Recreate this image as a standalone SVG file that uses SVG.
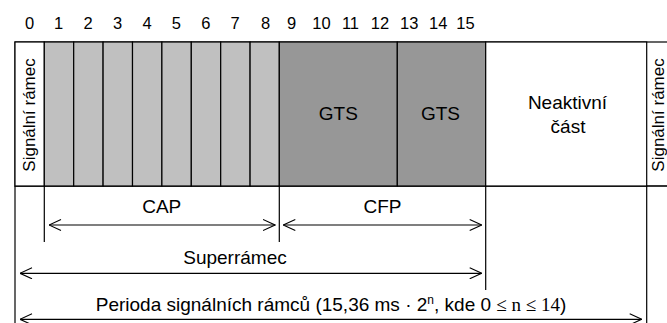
<svg xmlns="http://www.w3.org/2000/svg" width="667" height="323" viewBox="0 0 667 323">
<style>
text{font-family:"Liberation Sans",Arial,sans-serif;fill:#000}
.n{font-size:16.5px;text-anchor:middle}
.l{font-size:19px;text-anchor:middle}
.v{font-size:17px;text-anchor:middle}
.ln{stroke:#000;stroke-width:1.2;fill:none}
.slot{fill:#c0c0c0;stroke:#000;stroke-width:1.2}
.gts{fill:#979797;stroke:#000;stroke-width:1.2}
.ar{stroke:#000;stroke-width:1.2;fill:none;marker-start:url(#a);marker-end:url(#a)}
</style>
<defs>
<marker id="a" viewBox="0 0 13 12" refX="12.5" refY="6" markerWidth="13" markerHeight="12" markerUnits="userSpaceOnUse" orient="auto-start-reverse">
<path d="M0.5,0.5 L12.5,6 L0.5,11.5" fill="none" stroke="#000" stroke-width="1.1"/>
</marker>
</defs>
<rect width="667" height="323" fill="#fff"/>
<g id="numbers">
<text class="n" x="29.7" y="28.5">0</text>
<text class="n" x="58.5" y="28.5">1</text>
<text class="n" x="88.2" y="28.5">2</text>
<text class="n" x="117.6" y="28.5">3</text>
<text class="n" x="147" y="28.5">4</text>
<text class="n" x="176.4" y="28.5">5</text>
<text class="n" x="205.8" y="28.5">6</text>
<text class="n" x="235.2" y="28.5">7</text>
<text class="n" x="265.5" y="28.5">8</text>
<text class="n" x="291.7" y="28.5">9</text>
<text class="n" x="321.5" y="28.5">10</text>
<text class="n" x="350.5" y="28.5">11</text>
<text class="n" x="380" y="28.5">12</text>
<text class="n" x="409.3" y="28.5">13</text>
<text class="n" x="438.3" y="28.5">14</text>
<text class="n" x="465.5" y="28.5">15</text>
</g>
<g id="frame">
<rect x="15" y="42" width="660" height="144" fill="#fff" stroke="#000" stroke-width="1.2"/>
<line class="ln" x1="15" y1="186" x2="667" y2="186"/>
</g>
<g id="beacon-left">
<rect x="15" y="42" width="29.3" height="144" fill="#fff" stroke="#000" stroke-width="1.2"/>
<text class="v" transform="translate(35,115) rotate(-90)">Signální rámec</text>
</g>
<g id="cap-slots">
<rect class="slot" x="44.3" y="42" width="29.4" height="144"/>
<rect class="slot" x="73.7" y="42" width="29.4" height="144"/>
<rect class="slot" x="103.1" y="42" width="29.4" height="144"/>
<rect class="slot" x="132.5" y="42" width="29.4" height="144"/>
<rect class="slot" x="161.9" y="42" width="29.4" height="144"/>
<rect class="slot" x="191.3" y="42" width="29.4" height="144"/>
<rect class="slot" x="220.7" y="42" width="29.4" height="144"/>
<rect class="slot" x="250.1" y="42" width="29.2" height="144"/>
</g>
<g id="gts1">
<rect class="gts" x="279.3" y="42" width="118" height="144"/>
<text class="l" x="338.3" y="120">GTS</text>
</g>
<g id="gts2">
<rect class="gts" x="397.3" y="42" width="88.4" height="144"/>
<text class="l" x="440.5" y="120">GTS</text>
</g>
<g id="inactive">
<rect x="485.7" y="42" width="161" height="144" fill="#fff" stroke="#000" stroke-width="1.2"/>
<text class="l" x="567.5" y="109">Neaktivní</text>
<text class="l" x="568" y="133">část</text>
</g>
<g id="beacon-right">
<text class="v" transform="translate(664,115) rotate(-90)">Signální rámec</text>
</g>
<g id="connectors">
<line class="ln" x1="15" y1="186" x2="15" y2="323"/>
<line class="ln" x1="646.7" y1="186" x2="646.7" y2="323"/>
<line class="ln" x1="44.3" y1="186" x2="44.3" y2="242"/>
<line class="ln" x1="279.3" y1="186" x2="279.3" y2="242"/>
<line class="ln" x1="485.7" y1="186" x2="485.7" y2="290"/>
<line class="ar" x1="49" y1="225" x2="275" y2="225"/>
<line class="ar" x1="283.3" y1="225" x2="481.7" y2="225"/>
<line class="ar" x1="20" y1="273.3" x2="481.7" y2="273.3"/>
<line class="ar" x1="20" y1="319.3" x2="641.7" y2="319.3"/>
</g>
<g id="labels">
<text class="l" x="161.7" y="212.5">CAP</text>
<text class="l" x="382.5" y="212.5">CFP</text>
<text class="l" x="235" y="264">Superrámec</text>
<text class="l" x="331" y="311">Perioda signálních rámců (15,36 ms · 2<tspan font-size="12" dy="-7">n</tspan><tspan dy="7">, kde 0 </tspan><tspan font-family="Liberation Serif,serif">≤ n ≤ 14</tspan>)</text>
</g>
</svg>
